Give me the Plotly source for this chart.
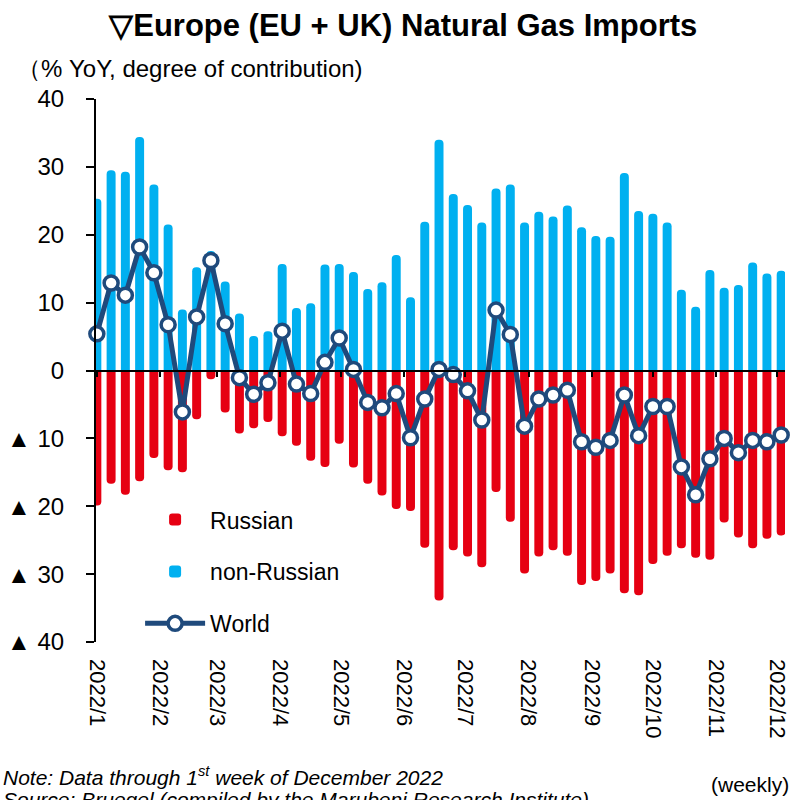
import plotly.graph_objects as go

weeks = [
    "2022-01-01", "2022-01-08", "2022-01-15", "2022-01-22", "2022-01-29",
    "2022-02-05", "2022-02-12", "2022-02-19", "2022-02-26",
    "2022-03-05", "2022-03-12", "2022-03-19", "2022-03-26",
    "2022-04-02", "2022-04-09", "2022-04-16", "2022-04-23", "2022-04-30",
    "2022-05-07", "2022-05-14", "2022-05-21", "2022-05-28",
    "2022-06-04", "2022-06-11", "2022-06-18", "2022-06-25",
    "2022-07-02", "2022-07-09", "2022-07-16", "2022-07-23", "2022-07-30",
    "2022-08-06", "2022-08-13", "2022-08-20", "2022-08-27",
    "2022-09-03", "2022-09-10", "2022-09-17", "2022-09-24",
    "2022-10-01", "2022-10-08", "2022-10-15", "2022-10-22", "2022-10-29",
    "2022-11-05", "2022-11-12", "2022-11-19", "2022-11-26",
    "2022-12-03",
]

russian = [-19.9, -16.7, -18.3, -16.3, -12.9, -14.7, -15.0, -7.2, -1.3, -6.2,
           -9.3, -8.5, -7.6, -9.7, -11.1, -13.3, -14.2, -10.8, -14.3, -16.7,
           -18.4, -20.4, -20.7, -26.1, -33.9, -26.5, -27.4, -29.0, -17.9, -22.3,
           -29.9, -27.4, -26.5, -27.3, -31.6, -31.0, -29.9, -32.8, -33.1, -28.5,
           -27.3, -26.2, -27.6, -27.9, -22.4, -24.6, -26.2, -24.8, -24.3]

non_russian = [25.3, 29.5, 29.3, 34.4, 27.4, 21.5, 9.0, 15.2, 17.6, 13.1,
               8.4, 5.1, 5.8, 15.7, 9.2, 9.9, 15.6, 15.7, 14.5, 12.0,
               13.0, 17.0, 10.8, 21.9, 34.0, 26.0, 24.4, 21.8, 26.8, 27.4,
               21.8, 23.4, 22.7, 24.3, 21.1, 19.8, 19.7, 29.1, 23.5, 23.1,
               21.8, 11.9, 9.4, 14.8, 12.2, 12.6, 15.9, 14.3, 14.7]

world = [5.4, 12.9, 11.1, 18.2, 14.4, 6.75, -6.1, 7.9, 16.2, 6.9,
         -1.05, -3.5, -1.8, 5.8, -2.0, -3.4, 1.2, 4.8, 0.16, -4.7,
         -5.5, -3.4, -9.9, -4.2, 0.16, -0.6, -3.0, -7.3, 8.9, 5.3,
         -8.2, -4.2, -3.6, -2.9, -10.5, -11.3, -10.3, -3.6, -9.6, -5.3,
         -5.3, -14.2, -18.3, -13.0, -10.0, -12.1, -10.3, -10.5, -9.5]

month_ticks = ["2022-01-01", "2022-02-01", "2022-03-01", "2022-04-01", "2022-05-01",
               "2022-06-01", "2022-07-01", "2022-08-01", "2022-09-01", "2022-10-01",
               "2022-11-01", "2022-12-01"]
month_labels = ["2022/1", "2022/2", "2022/3", "2022/4", "2022/5", "2022/6",
                "2022/7", "2022/8", "2022/9", "2022/10", "2022/11", "2022/12"]

y_ticks = [40, 30, 20, 10, 0, -10, -20, -30, -40]
y_labels = ["40", "30", "20", "10", "0", "▲ 10", "▲ 20", "▲ 30", "▲ 40"]

RED = "#E60012"
BLUE = "#00B0F0"
NAVY = "#1F4A7C"
FONT = "Liberation Sans Narrow, Arial Narrow, Liberation Sans, Arial, sans-serif"

BAR_W = 4.4 * 24 * 3600 * 1000

fig = go.Figure()
fig.add_trace(go.Bar(x=weeks, y=russian, name="Russian", width=BAR_W,
                     marker=dict(color=RED, line=dict(width=0), cornerradius=4),
                     legendgroup="a"))
fig.add_trace(go.Bar(x=weeks, y=non_russian, name="non-Russian", width=BAR_W,
                     marker=dict(color=BLUE, line=dict(width=0), cornerradius=4),
                     legendgroup="b"))
fig.add_trace(go.Scatter(x=weeks, y=world, name="World", mode="lines+markers",
                         xaxis="x2", cliponaxis=False,
                         line=dict(color=NAVY, width=5),
                         marker=dict(symbol="circle", size=14, color="white",
                                     line=dict(color=NAVY, width=3.5)),
                         legendgroup="c"))

x_range = ["2021-12-31 14:00", "2022-12-04 21:00"]

fig.update_layout(
    width=797, height=800,
    margin=dict(l=92, r=7, t=99, b=158),
    paper_bgcolor="white", plot_bgcolor="white",
    barmode="relative",
    font=dict(family=FONT, color="black", size=22),
    title=dict(text="▽Europe (EU + UK) Natural Gas Imports",
               font=dict(family=FONT, size=31, color="black", weight="bold"),
               x=0.506, xanchor="center", xref="container",
               y=0.968, yanchor="middle", yref="container"),
    xaxis=dict(type="date", range=x_range, tickvals=month_ticks, ticktext=month_labels,
               tickangle=90, ticks="", showline=False, showgrid=False, zeroline=False,
               tickfont=dict(family=FONT, size=22, color="black"),
               ticklabelstandoff=16),
    xaxis2=dict(type="date", matches="x", overlaying="x", anchor="free", position=0.5,
                tickvals=month_ticks, ticks="outside", ticklen=5, tickwidth=2,
                tickcolor="black", showticklabels=False, showline=True,
                linecolor="black", linewidth=2, showgrid=False, zeroline=False),
    yaxis=dict(range=[-40, 40], tickvals=y_ticks, ticktext=y_labels,
               ticks="outside", ticklen=8, tickwidth=2, tickcolor="black",
               showline=True, linecolor="black", linewidth=2,
               showgrid=False, zeroline=False,
               tickfont=dict(family=FONT, size=24, color="black"),
               ticklabelstandoff=17),
    legend=dict(x=0.064, y=0.265, xanchor="left", yanchor="top",
                bgcolor="rgba(0,0,0,0)", traceorder="grouped", tracegroupgap=19,
                itemwidth=60, font=dict(family=FONT, size=23, color="black")),
    showlegend=True,
)

fig.add_annotation(text="（% YoY, degree of contribution)", xref="paper", yref="paper",
                   x=-0.1175, y=1.057, xanchor="left", yanchor="middle",
                   showarrow=False, font=dict(family=FONT, size=24, color="black"))
fig.add_annotation(text="Note: Data through 1<sup>st</sup> week of December 2022",
                   xref="paper", yref="paper", x=-0.1375, y=-0.2468,
                   xanchor="left", yanchor="middle", showarrow=False,
                   font=dict(family=FONT, size=21, color="black", style="italic"))
fig.add_annotation(text="Source: Bruegel (compiled by the Marubeni Research Institute)",
                   xref="paper", yref="paper", x=-0.1375, y=-0.265,
                   xanchor="left", yanchor="top", showarrow=False,
                   font=dict(family=FONT, size=21, color="black", style="italic"))
fig.add_annotation(text="(weekly)", xref="paper", yref="paper", x=1.008, y=-0.263,
                   xanchor="right", yanchor="middle", showarrow=False,
                   font=dict(family=FONT, size=21, color="black"))

fig.write_html("out.html", config={"displayModeBar": False},
               post_script="document.body.style.margin='0';")
